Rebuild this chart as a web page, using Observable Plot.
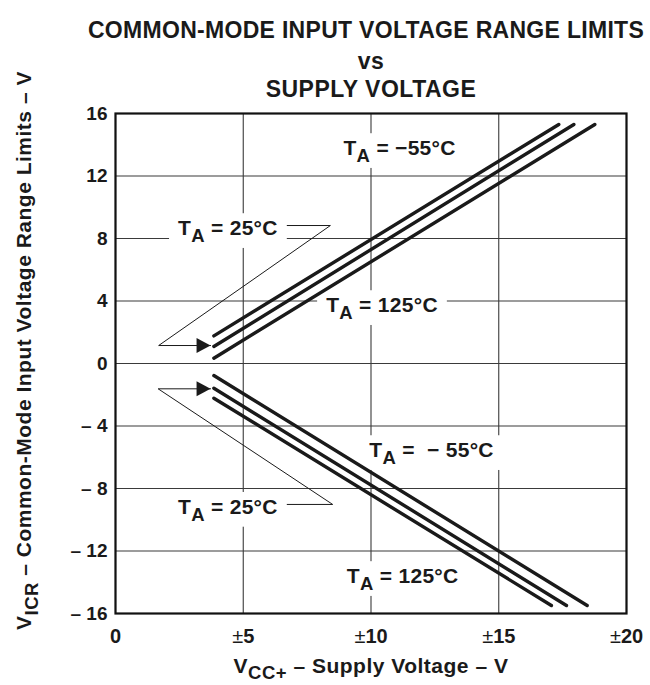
<!DOCTYPE html>
<html>
<head>
<meta charset="utf-8">
<script src="https://cdn.jsdelivr.net/npm/d3@7"></script>
<script src="https://cdn.jsdelivr.net/npm/@observablehq/plot@0.6"></script>
<style>
  html, body { margin: 0; padding: 0; background: #fff; }
  #chart { width: 650px; height: 685px; overflow: hidden; }
  #chart svg text { font-family: "Liberation Sans", Arial, Helvetica, sans-serif; font-weight: bold; fill: #1a1a1a; }
</style>
</head>
<body>
<div id="chart"></div>
<script>
// ---- data ----
const supplyTicks = [0, 5, 10, 15, 20];
const supplyTickLabels = ["0", "±5", "±10", "±15", "±20"];
const vicrTicks = [16, 12, 8, 4, 0, -4, -8, -12, -16];
const vicrTickLabels = ["16", "12", "8", "4", "0", "– 4", "– 8", "– 12", "– 16"];

const titleLines = ["COMMON-MODE INPUT VOLTAGE RANGE LIMITS", "vs", "SUPPLY VOLTAGE"];
const xLabel = "V{CC+} – Supply Voltage – V";
const yLabel = "V{ICR} – Common-Mode Input Voltage Range Limits – V";

// upper limit curves (T_A = -55, 25, 125 °C)
const upperStartVcc = [3.85, 3.85, 3.85];
const upperEndVcc = [17.35, 17.94, 18.76];
const upperStartVicr = [1.77, 1.09, 0.34];
const upperEndVicr = [15.3, 15.3, 15.3];
// lower limit curves (T_A = -55, 25, 125 °C)
const lowerStartVcc = [3.85, 3.85, 3.85];
const lowerEndVcc = [18.46, 17.65, 17.06];
const lowerStartVicr = [-0.77, -1.58, -2.22];
const lowerEndVicr = [-15.49, -15.49, -15.49];

// annotations
const annotationText = ["T{A} = −55°C", "T{A} = 125°C", "T{A} =\u00a0 − 55°C", "T{A} = 125°C", "T{A} = 25°C", "T{A} = 25°C"];
const annotationVcc = [11.12, 10.43, 12.37, 11.24, 4.40, 4.40];
const annotationVicr = [13.76, 3.71, -5.57, -13.63, 8.64, -9.20];
// leader lines for the 25 °C labels
const leaderVcc = [[6.72, 8.41, 1.69, 3.72], [6.72, 8.50, 1.67, 3.72]];
const leaderVicr = [[8.83, 8.83, 1.15, 1.15], [-9.02, -9.02, -1.62, -1.62]];

// ---- build tables ----
const curves = [];
for (let i = 0; i < 3; i++) {
  curves.push({vcc: upperStartVcc[i], vicr: upperStartVicr[i], s: "u" + i});
  curves.push({vcc: upperEndVcc[i], vicr: upperEndVicr[i], s: "u" + i});
  curves.push({vcc: lowerStartVcc[i], vicr: lowerStartVicr[i], s: "l" + i});
  curves.push({vcc: lowerEndVcc[i], vicr: lowerEndVicr[i], s: "l" + i});
}
const leaders = [];
leaderVcc.forEach((xs, k) => xs.forEach((x, j) => leaders.push({vcc: x, vicr: leaderVicr[k][j], s: k})));

function filledArrow(color) {
  const ns = "http://www.w3.org/2000/svg";
  const m = document.createElementNS(ns, "marker");
  m.setAttribute("viewBox", "-15 -9 16 18");
  m.setAttribute("markerWidth", "16");
  m.setAttribute("markerHeight", "18");
  m.setAttribute("markerUnits", "userSpaceOnUse");
  m.setAttribute("orient", "auto");
  m.setAttribute("refX", "0");
  m.setAttribute("refY", "0");
  const p = document.createElementNS(ns, "path");
  p.setAttribute("d", "M0,0L-14,-7.5L-14,7.5Z");
  p.setAttribute("fill", color);
  p.setAttribute("stroke", "none");
  m.appendChild(p);
  return m;
}

const ink = "#1a1a1a";
const plot = Plot.plot({
  width: 650,
  height: 685,
  marginLeft: 115,
  marginRight: 24,
  marginTop: 113,
  marginBottom: 72,
  style: {fontFamily: "'Liberation Sans', Arial, sans-serif", fontWeight: "bold", color: ink, background: "#fff"},
  x: {domain: [0, 20]},
  y: {domain: [-16, 16]},
  marks: [
    Plot.gridX(supplyTicks, {stroke: "#3a3a3a", strokeOpacity: 1, strokeWidth: 1.1}),
    Plot.gridY(vicrTicks, {stroke: "#3a3a3a", strokeOpacity: 1, strokeWidth: 1.1}),
    Plot.axisX({ticks: supplyTicks, tickSize: 0, tickPadding: 15, fontSize: 20, label: null,
      tickFormat: d => supplyTickLabels[supplyTicks.indexOf(d)]}),
    Plot.axisY({ticks: vicrTicks, tickSize: 0, tickPadding: 8, fontSize: 19, label: null,
      tickFormat: d => vicrTickLabels[vicrTicks.indexOf(d)]}),
    Plot.text(annotationText, {x: annotationVcc, y: annotationVicr, text: d => d, fontSize: 21, lineAnchor: "middle"}),
    Plot.line(curves, {x: "vcc", y: "vicr", z: "s", stroke: ink, strokeWidth: 3.4, strokeLinecap: "round"}),
    Plot.line(leaders, {x: "vcc", y: "vicr", z: "s", stroke: ink, strokeWidth: 1, markerEnd: filledArrow}),
    Plot.text([titleLines[0]], {text: d => d, frameAnchor: "top", textAnchor: "middle", dx: -5, dy: -92, fontSize: 23}),
    Plot.text([titleLines[1]], {text: d => d, frameAnchor: "top", textAnchor: "middle", dy: -61, fontSize: 23}),
    Plot.text([titleLines[2]], {text: d => d, frameAnchor: "top", textAnchor: "middle", dy: -33, fontSize: 23}),
    Plot.text([xLabel], {text: d => d, frameAnchor: "bottom", textAnchor: "middle", dy: 59, fontSize: 21}),
    Plot.text([yLabel], {text: d => d, frameAnchor: "left", textAnchor: "middle", lineAnchor: "middle", rotate: -90, dx: -91, dy: -13, fontSize: 21}),
    Plot.frame({stroke: "#111", strokeWidth: 2.2})
  ]
});
document.getElementById("chart").appendChild(plot);

// ---- rich text: subscripts, thin ± ----
const NS = "http://www.w3.org/2000/svg";
plot.querySelectorAll("text").forEach(t => {
  const s = t.textContent;
  if (/^COMMON/.test(s)) t.style.letterSpacing = "0.3px";
  if (/^vs$|^SUPPLY/.test(s)) t.style.letterSpacing = "0.5px";
  if (s.startsWith("V{")) t.style.letterSpacing = "0.5px";
  if (s.startsWith("T{")) t.style.letterSpacing = "0.3px";
  if (!s.includes("{") && !s.includes("±")) return;
  const fs = parseFloat(getComputedStyle(t).fontSize) || 20;
  const shift = fs * 0.32;
  const parts = s.split(/(\{[^}]*\}|±)/).filter(p => p !== "");
  t.textContent = "";
  let down = false;
  for (const p of parts) {
    const ts = document.createElementNS(NS, "tspan");
    if (p.startsWith("{")) {
      ts.textContent = p.slice(1, -1);
      ts.style.fontSize = (fs * 0.88) + "px";
      ts.setAttribute("dy", shift);
      down = true;
    } else {
      ts.textContent = p;
      if (down) { ts.setAttribute("dy", -shift); down = false; }
      if (p === "±") ts.style.fontWeight = "normal";
    }
    t.appendChild(ts);
  }
});

// white boxes behind the temperature labels (they interrupt the grid)
plot.querySelectorAll("text").forEach(t => {
  if (!t.textContent.startsWith("TA")) return;
  const b = t.getBBox();
  const r = document.createElementNS(NS, "rect");
  r.setAttribute("x", b.x - 9);
  r.setAttribute("y", b.y - 3);
  r.setAttribute("width", b.width + 18);
  r.setAttribute("height", b.height + 5);
  r.setAttribute("fill", "#fff");
  const tr = t.getAttribute("transform");
  if (tr) r.setAttribute("transform", tr);
  const g = t.parentNode;
  g.insertBefore(r, g.firstChild);
});
</script>
</body>
</html>
